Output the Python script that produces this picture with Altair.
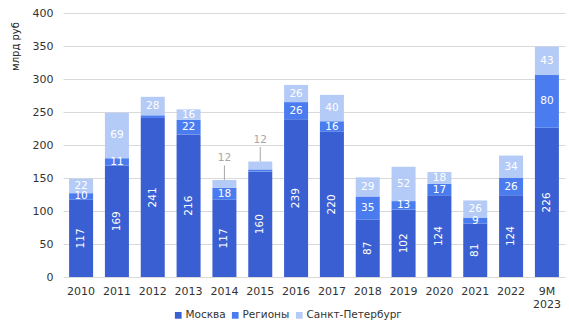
import altair as alt
import pandas as pd

years = ["2010", "2011", "2012", "2013", "2014", "2015", "2016", "2017",
         "2018", "2019", "2020", "2021", "2022", "9M 2023"]
moscow = [117, 169, 241, 216, 117, 160, 239, 220, 87, 102, 124, 81, 124, 226]
regions = [10, 11, 4, 22, 18, 3, 26, 16, 35, 13, 17, 9, 26, 80]
spb = [22, 69, 28, 16, 12, 12, 26, 40, 29, 52, 18, 26, 34, 43]
series = ["Москва", "Регионы", "Санкт-Петербург"]
colors = ["#3A5FD2", "#4A7CEF", "#B5CBF7"]
callout_years = ["2014", "2015"]

rows = []
for i, y in enumerate(years):
    base = 0
    for k, (s, vals) in enumerate(zip(series, [moscow, regions, spb])):
        v = vals[i]
        rows.append({"year": y, "series": s, "value": v, "order": k,
                     "mid": base + v / 2, "total": moscow[i] + regions[i] + spb[i]})
        base += v
df = pd.DataFrame(rows)

font = "DejaVu Sans"
xaxis = alt.Axis(labelAngle=0, ticks=False, domain=False, grid=False, labelPadding=8,
                 labelExpr="split(datum.value, ' ')", labelFontSize=11,
                 labelColor="#333333", labelFont=font, labelLineHeight=13)
xscale = alt.Scale(paddingInner=0.33, paddingOuter=0.17)
yscale = alt.Scale(domain=[0, 400])
yaxis = alt.Axis(values=list(range(0, 401, 50)), ticks=False,
                 domain=False, labelOverlap=False,
                 grid=True, gridColor="#D9D9D9", labelFontSize=11,
                 labelColor="#333333", labelFont=font, labelPadding=10,
                 titleFont=font, titleFontSize=10, titleFontWeight="normal",
                 titleColor="#222222", titleAngle=270, titleX=-48, titleY=33,
                 titleAlign="center", titleBaseline="middle")
ytitle = "млрд руб"


def X():
    return alt.X("year:N", sort=years, title=None, scale=xscale, axis=xaxis)


def Y(field, **kw):
    return alt.Y(field, title=ytitle, scale=yscale, axis=yaxis, **kw)


bars = alt.Chart(df).mark_bar().encode(
    x=X(),
    y=Y("value:Q", stack="zero"),
    color=alt.Color("series:N", sort=series,
                    scale=alt.Scale(domain=series, range=colors),
                    legend=alt.Legend(title=None, orient="none", direction="horizontal",
                                      legendX=110, legendY=297, symbolType="square",
                                      symbolSize=45, labelFontSize=10.5, labelFont=font,
                                      labelColor="#333333", symbolStrokeWidth=0,
                                      columnPadding=4, labelOffset=2)),
    order=alt.Order("order:Q"),
)

mos_lbl = alt.Chart(df).transform_filter("datum.order == 0").mark_text(
    angle=270, color="white", fontSize=10.5, font=font
).encode(x=X(), y=Y("mid:Q"), text="value:Q")

other_lbl = alt.Chart(df).transform_filter(
    "datum.order > 0 && datum.value >= 5 && !(datum.order == 2 && indexof(['2014','2015'], datum.year) >= 0)"
).mark_text(color="white", fontSize=10.5, font=font, baseline="middle").encode(
    x=X(), y=Y("mid:Q"), text="value:Q")

cdf = df[(df["order"] == 2) & (df["year"].isin(callout_years))]
leader = alt.Chart(cdf).transform_calculate(
    top="datum.total + 22"
).mark_rule(color="#A6A6A6", strokeWidth=1).encode(
    x=X(), y=Y("total:Q"), y2="top:Q")
callout = alt.Chart(cdf).transform_calculate(
    ly="datum.total + 33"
).mark_text(color="#A6A6A6", fontSize=10.5, font=font, baseline="middle").encode(
    x=X(), y=Y("ly:Q"), text="value:Q")

chart = alt.layer(bars, mos_lbl, other_lbl, leader, callout).properties(
    width=502, height=264,
    background="white",
    autosize=alt.AutoSizeParams(type="none"),
    padding={"left": 63, "top": 13, "right": 4, "bottom": 51},
).configure_view(stroke=None, strokeWidth=0)

chart.save("out.html", embed_options={"renderer": "svg", "actions": False})
